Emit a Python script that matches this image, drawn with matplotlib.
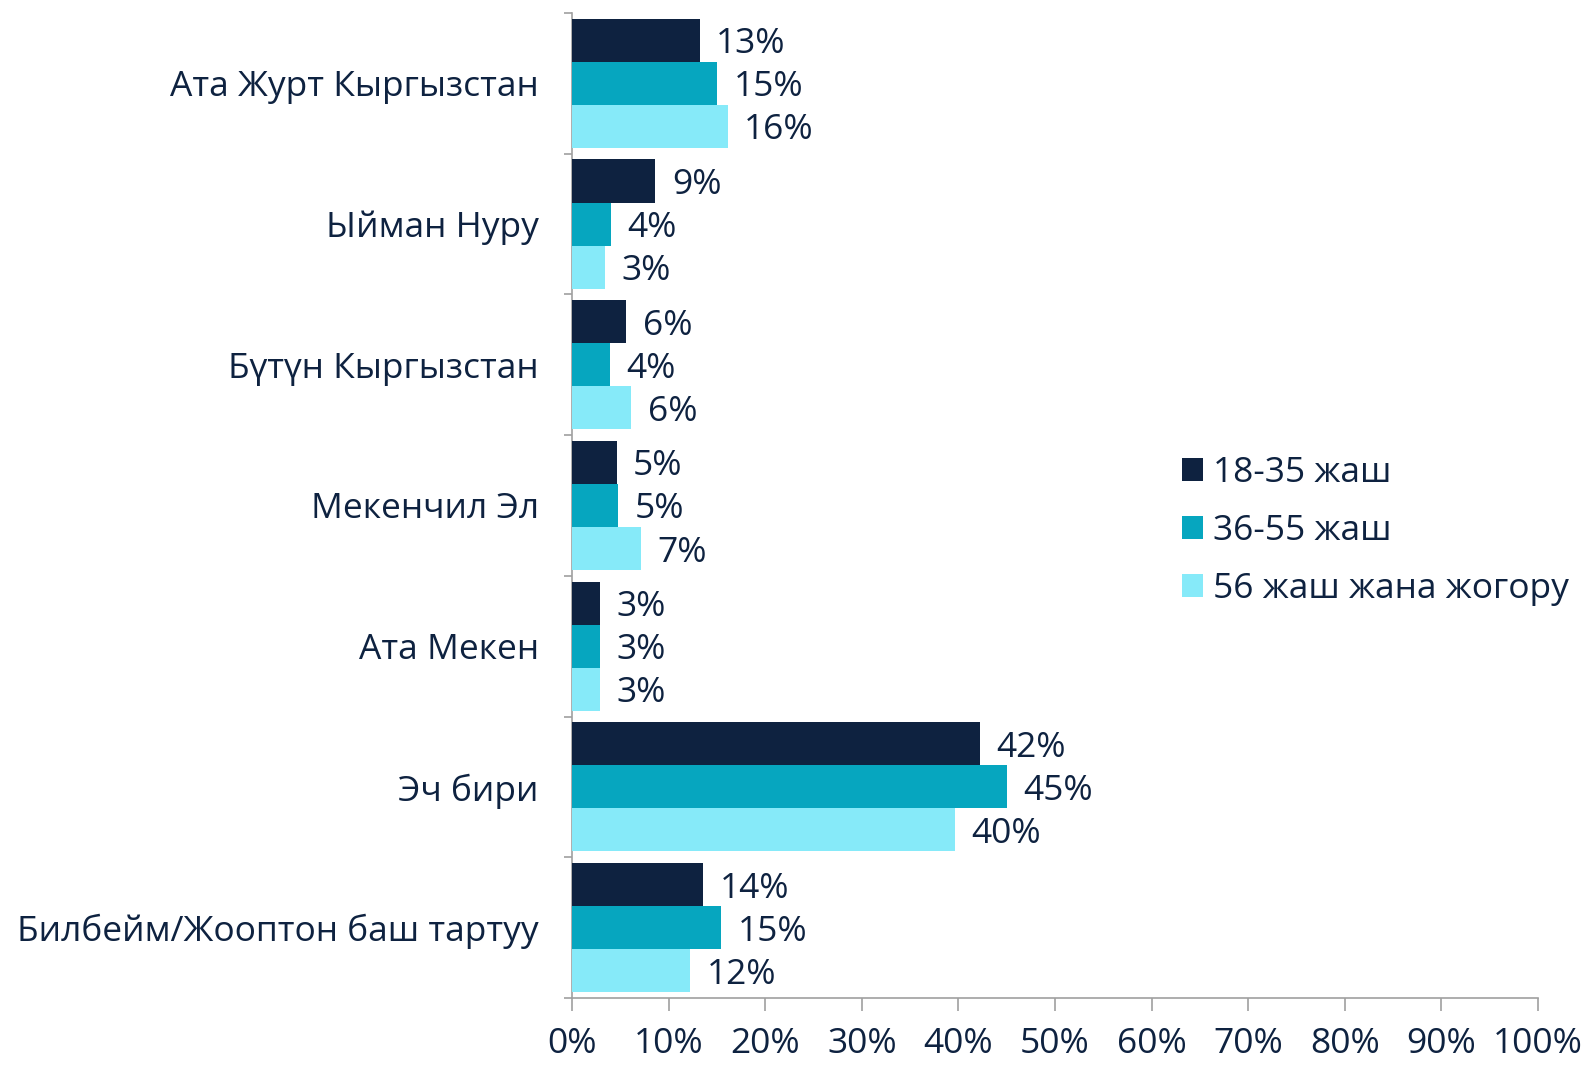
import numpy as np
import matplotlib.pyplot as plt
from matplotlib.ticker import MultipleLocator, FixedLocator, PercentFormatter

categories = ["Ата Журт Кыргызстан", "Ыйман Нуру", "Бүтүн Кыргызстан", "Мекенчил Эл",
              "Ата Мекен", "Эч бири", "Билбейм/Жооптон баш тартуу"]
series = ["18-35 жаш", "36-55 жаш", "56 жаш жана жогору"]
age_18_35 = [13.2, 8.6, 5.6, 4.6, 2.9, 42.2, 13.6]
age_36_55 = [15.0, 4.0, 3.9, 4.8, 2.9, 45.0, 15.4]
age_56_up = [16.1, 3.4, 6.1, 7.1, 2.9, 39.6, 12.2]
labels_18_35 = ["13%", "9%", "6%", "5%", "3%", "42%", "14%"]
labels_36_55 = ["15%", "4%", "4%", "5%", "3%", "45%", "15%"]
labels_56_up = ["16%", "3%", "6%", "7%", "3%", "40%", "12%"]

colors = ["#0e2240", "#06a6bf", "#86eaf9"]
txt = "#0e2240"
plt.rcParams["font.family"] = ["Open Sans", "DejaVu Sans"]
fs = 25.5

fig = plt.figure(figsize=(15.86, 10.67), dpi=100)
ax = fig.add_axes([0.3607, 0.0647, 0.609, 0.9231])

y = np.arange(len(categories))
h = 0.306
for k, (vals, labs) in enumerate([(age_18_35, labels_18_35), (age_36_55, labels_36_55),
                                  (age_56_up, labels_56_up)]):
    pos = y + (k - 1) * h
    ax.barh(pos, vals, height=h, color=colors[k], label=series[k], zorder=3)
    for p, v, l in zip(pos, vals, labs):
        ax.annotate(l, (v, p), xytext=(12, 0), textcoords="offset points",
                    va="center_baseline", ha="left", fontsize=fs, color=txt)

ax.set_xlim(0, 100)
ax.set_ylim(len(categories) - 0.5, -0.5)
ax.xaxis.set_major_locator(MultipleLocator(10))
ax.xaxis.set_major_formatter(PercentFormatter(decimals=0))
ax.set_yticks(y)
ax.set_yticklabels(categories)
ax.yaxis.set_minor_locator(FixedLocator(np.arange(-0.5, len(categories), 1.0)))
ax.tick_params(axis="y", which="major", length=0, pad=24, labelsize=fs, labelcolor=txt)
ax.tick_params(axis="y", which="minor", length=6, width=1.2, color="#a0a0a0")
ax.tick_params(axis="x", length=9, width=1.2, color="#a0a0a0", pad=12,
               labelsize=fs, labelcolor=txt)
for sp in ("top", "right"):
    ax.spines[sp].set_visible(False)
for sp in ("left", "bottom"):
    ax.spines[sp].set_color("#a0a0a0")
    ax.spines[sp].set_linewidth(1.2)

leg = ax.legend(loc="center left", bbox_to_anchor=(0.598, 0.474), frameon=False,
                fontsize=fs, handlelength=0.6, handleheight=0.6, handletextpad=0.3,
                labelspacing=0.68, labelcolor=txt)

fig.savefig("out.png", dpi=100, facecolor="white")
